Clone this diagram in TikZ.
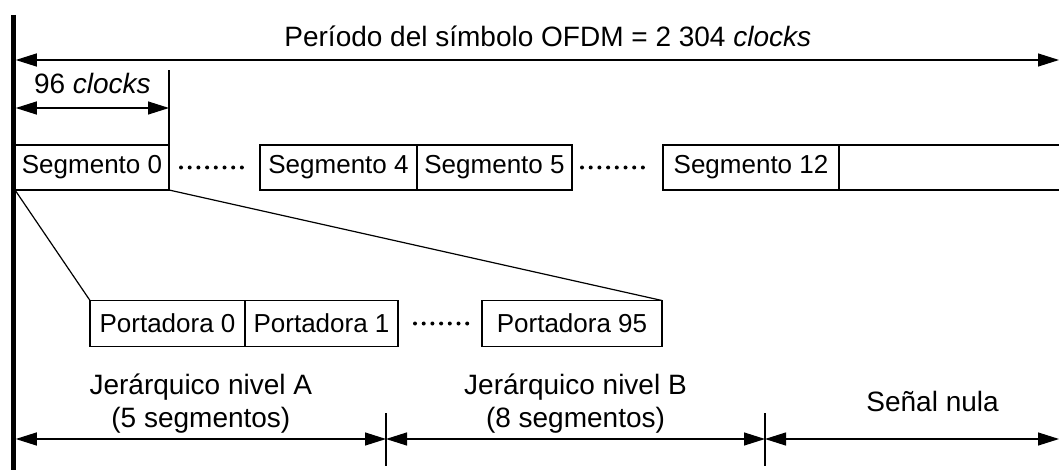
\documentclass[tikz,border=0pt]{standalone}
\usepackage{fontspec}
\setmainfont{Liberation Sans}
\usetikzlibrary{arrows.meta,positioning}

\begin{document}
\begin{tikzpicture}[x=1pt,y=-1pt,line width=1.2pt,node distance=0pt,
  font=\fontsize{28}{33}\selectfont,
  box/.style={draw,inner sep=0pt,outer sep=0pt,minimum height=45pt,font=\fontsize{26}{30}\selectfont},
  dim/.style={{Triangle[length=21pt,width=13pt]}-{Triangle[length=21pt,width=13pt]}},
  dots/.style={line width=4pt,line cap=round,dash pattern=on 0pt off 8.7pt},
  lbl/.style={inner sep=0pt,align=center}]
\useasboundingbox (0,0) rectangle (1059,470);
% time axis
\coordinate (top) at (13.5,15);
\coordinate (bot) at (13.5,470);
\draw[line width=4.5pt] (top) -- (bot);
% segments
\node[box,minimum width=154pt] (seg0) at (92,167.5) {Segmento 0};
\node[box,minimum width=157pt] (seg4) at (338.5,167.5) {Segmento 4};
\node[box,minimum width=155pt,right=of seg4] (seg5) {Segmento 5};
\node[box,minimum width=176pt] (seg12) at (751,167.5) {Segmento 12};
\draw (seg12.north east) -- ++(222,0) (seg12.south east) -- ++(222,0);
\draw[dots] ([xshift=12pt]seg0.east) -- ([xshift=-17pt]seg4.west);
\draw[dots] ([xshift=10pt]seg5.east) -- ([xshift=-17pt]seg12.west);
% carriers
\node[box,minimum width=155pt,minimum height=46pt] (p0) at (167.5,323.5) {Portadora 0};
\node[box,minimum width=153pt,minimum height=46pt,right=of p0] (p1) {Portadora 1};
\node[box,minimum width=180pt,minimum height=46pt] (p95) at (572,323.5) {Portadora 95};
\draw[dots] ([xshift=17pt]p1.east) -- ([xshift=-7pt]p95.west);
\draw (seg0.south west) -- (p0.north west)
      (seg0.south east) -- (p95.north east);
% symbol period
\coordinate (a0) at (15.75,60);
\coordinate (a1) at (1059,60);
\draw[dim] (a0) -- node[anchor=base,yshift=13pt,pos=0.51] {Período del símbolo OFDM = 2~304 \textit{clocks}} (a1);
% one segment
\coordinate (c0) at (15.75,108);
\draw (seg0.north east) -- ++(0,-75);
\draw[dim] (c0) -- node[anchor=base,yshift=14pt] {96 \textit{clocks}} (c0 -| seg0.east);
% layers
\coordinate (b0) at (15.75,439);
\coordinate (b1) at (386,439);
\coordinate (b2) at (765,439);
\coordinate (b3) at (1059,439);
\draw ([yshift=26pt]b1) -- ([yshift=-27pt]b1)
      ([yshift=26pt]b2) -- ([yshift=-27pt]b2);
\draw[dim] (b0) -- node[lbl,anchor=south,yshift=5pt] {Jerárquico nivel A\\(5 segmentos)} (b1);
\draw[dim] (b1) -- node[lbl,anchor=south,yshift=5pt] {Jerárquico nivel B\\(8 segmentos)} (b2);
\draw[dim] (b2) -- node[lbl,anchor=base,yshift=28pt,pos=0.57] {Señal nula} (b3);
\end{tikzpicture}
\end{document}
